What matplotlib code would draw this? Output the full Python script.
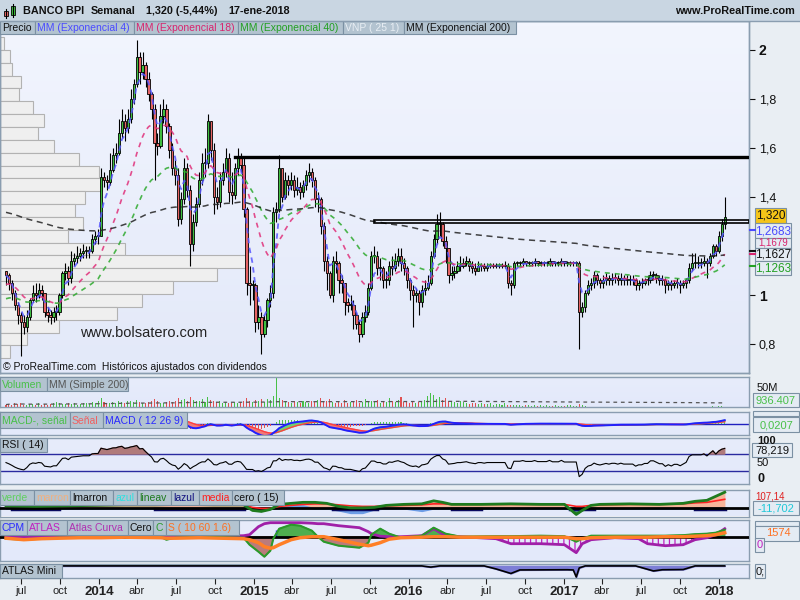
import numpy as np
import pandas as pd
import matplotlib
matplotlib.use("Agg")
import matplotlib.pyplot as plt
from matplotlib.patches import Rectangle
from matplotlib.colors import LinearSegmentedColormap

plt.rcParams['font.family'] = ['Liberation Sans', 'DejaVu Sans']
plt.rcParams['hatch.linewidth'] = 0.9

# ---------------- DATA (weekly) ----------------
first_week = "2013-05-27"
first_open = 1.10
close = [1.08,1.05,1.01,0.96,0.92,0.89,0.87,0.91,0.98,1.01,
         1.00,1.02,1.01,0.93,0.92,0.91,0.93,0.93,1.00,1.09,
         1.10,1.07,1.14,1.15,1.16,1.17,1.18,1.18,1.18,1.23,
         1.24,1.24,1.48,1.47,1.46,1.51,1.57,1.58,1.66,1.71,
         1.68,1.72,1.80,1.86,1.97,1.91,1.94,1.88,1.82,1.76,
         1.62,1.61,1.73,1.76,1.69,1.59,1.52,1.49,1.31,1.39,
         1.52,1.43,1.21,1.30,1.37,1.47,1.54,1.54,1.71,1.59,
         1.40,1.38,1.47,1.50,1.56,1.42,1.41,1.52,1.56,1.53,
         1.35,1.05,1.04,1.04,0.89,0.91,0.84,0.90,0.98,1.01,
         1.34,1.35,1.52,1.40,1.47,1.45,1.47,1.43,1.44,1.42,
         1.45,1.49,1.50,1.47,1.39,1.39,1.28,1.14,1.09,1.00,
         1.14,1.13,1.06,1.05,0.97,0.96,0.96,0.92,0.88,0.84,
         0.91,0.93,1.03,1.16,1.16,1.11,1.11,1.06,1.06,1.12,
         1.11,1.14,1.16,1.13,1.11,1.06,1.02,1.00,1.01,0.97,
         1.02,1.03,1.05,1.16,1.23,1.29,1.29,1.22,1.19,1.08,
         1.09,1.10,1.12,1.12,1.13,1.14,1.12,1.11,1.10,1.12,
         1.12,1.11,1.12,1.12,1.12,1.12,1.12,1.12,1.12,1.05,
         1.04,1.13,1.13,1.13,1.14,1.13,1.13,1.13,1.14,1.13,
         1.13,1.13,1.13,1.14,1.13,1.13,1.13,1.14,1.13,1.13,
         1.13,1.13,1.13,0.93,0.95,1.01,1.04,1.05,1.08,1.06,
         1.05,1.06,1.07,1.06,1.07,1.07,1.06,1.07,1.06,1.06,
         1.06,1.06,1.04,1.05,1.05,1.06,1.06,1.08,1.08,1.07,
         1.06,1.06,1.04,1.05,1.04,1.05,1.05,1.04,1.05,1.06,
         1.11,1.13,1.13,1.13,1.13,1.14,1.13,1.16,1.20,1.18,
         1.24,1.29,1.32]
high = [1.10,1.09,1.06,1.02,0.97,0.93,0.92,0.94,0.99,1.04,
        1.05,1.05,1.04,1.01,0.95,0.94,0.95,0.96,1.01,1.10,
        1.13,1.12,1.18,1.17,1.20,1.19,1.21,1.20,1.20,1.25,
        1.26,1.27,1.52,1.50,1.49,1.58,1.60,1.62,1.72,1.76,
        1.74,1.76,1.84,1.88,2.04,1.99,1.99,1.95,1.91,1.83,
        1.78,1.66,1.78,1.80,1.78,1.70,1.62,1.55,1.52,1.42,
        1.56,1.54,1.45,1.33,1.40,1.50,1.58,1.60,1.74,1.71,
        1.62,1.44,1.50,1.54,1.60,1.58,1.50,1.54,1.60,1.58,
        1.56,1.36,1.12,1.06,1.05,0.96,0.93,0.92,0.99,1.04,
        1.36,1.38,1.57,1.52,1.50,1.49,1.50,1.49,1.48,1.46,
        1.47,1.51,1.54,1.52,1.48,1.42,1.40,1.30,1.16,1.10,
        1.16,1.18,1.14,1.08,1.05,0.99,1.00,0.98,0.93,0.90,
        0.93,0.96,1.05,1.18,1.20,1.18,1.15,1.12,1.10,1.14,
        1.16,1.17,1.19,1.19,1.15,1.12,1.07,1.04,1.03,1.02,
        1.04,1.06,1.08,1.18,1.25,1.33,1.34,1.30,1.24,1.19,
        1.12,1.12,1.14,1.16,1.15,1.16,1.15,1.14,1.13,1.14,
        1.13,1.13,1.13,1.13,1.13,1.13,1.13,1.13,1.14,1.13,
        1.06,1.14,1.14,1.14,1.15,1.14,1.14,1.14,1.15,1.14,
        1.14,1.14,1.14,1.15,1.14,1.14,1.14,1.15,1.14,1.14,
        1.14,1.14,1.14,1.14,0.97,1.02,1.06,1.07,1.10,1.09,
        1.07,1.08,1.09,1.08,1.09,1.09,1.08,1.09,1.08,1.08,
        1.08,1.08,1.07,1.06,1.07,1.07,1.08,1.10,1.10,1.09,
        1.08,1.08,1.07,1.06,1.06,1.06,1.07,1.06,1.06,1.07,
        1.13,1.17,1.17,1.16,1.15,1.16,1.15,1.17,1.21,1.21,
        1.26,1.31,1.40]
low = [1.04,1.02,0.98,0.94,0.88,0.75,0.84,0.85,0.90,0.97,
       0.97,0.99,0.98,0.91,0.89,0.88,0.89,0.90,0.92,0.99,
       1.06,1.04,1.05,1.12,1.13,1.14,1.15,1.15,1.15,1.17,
       1.21,1.21,1.24,1.44,1.43,1.45,1.50,1.54,1.57,1.64,
       1.63,1.66,1.70,1.78,1.85,1.86,1.88,1.85,1.79,1.72,
       1.47,1.57,1.60,1.70,1.66,1.56,1.49,1.45,1.28,1.29,
       1.37,1.40,1.12,1.18,1.28,1.36,1.45,1.48,1.52,1.55,
       1.33,1.35,1.36,1.45,1.48,1.38,1.37,1.39,1.49,1.50,
       1.32,1.00,0.96,0.98,0.85,0.86,0.76,0.83,0.87,0.95,
       0.99,1.30,1.34,1.38,1.39,1.41,1.43,1.40,1.41,1.39,
       1.40,1.43,1.46,1.44,1.36,1.34,1.25,1.10,1.02,0.99,
       0.97,1.09,1.01,1.01,0.92,0.93,0.94,0.86,0.86,0.81,
       0.83,0.89,0.92,1.02,1.13,1.08,1.06,1.03,1.03,1.04,
       1.08,1.10,1.12,1.10,1.08,1.03,0.98,0.87,0.97,0.92,
       0.95,1.00,1.02,1.04,1.15,1.21,1.24,1.20,1.13,1.05,
       1.06,1.07,1.09,1.10,1.11,1.12,1.10,1.09,1.08,1.10,
       1.10,1.10,1.10,1.11,1.11,1.11,1.11,1.11,1.11,1.03,
       1.00,1.03,1.12,1.12,1.12,1.12,1.12,1.12,1.12,1.12,
       1.12,1.12,1.12,1.12,1.12,1.12,1.12,1.12,1.12,1.12,
       1.12,1.12,1.12,0.78,0.91,0.93,1.00,1.02,1.03,1.04,
       1.03,1.03,1.04,1.04,1.04,1.05,1.04,1.04,1.04,1.04,
       1.04,1.04,1.02,1.02,1.03,1.04,1.04,1.05,1.06,1.05,
       1.04,1.04,1.01,1.02,1.02,1.03,1.03,1.01,1.03,1.03,
       1.05,1.10,1.11,1.11,1.11,1.12,1.07,1.12,1.15,1.16,
       1.17,1.22,1.27]
volume_m = [6,8,5,9,7,10,6,5,8,7,6,9,5,7,6,8,10,12,9,7,
            8,10,7,9,6,8,11,9,7,12,10,14,22,12,9,11,13,10,15,12,
            11,14,16,12,18,13,10,9,12,15,20,14,11,10,13,16,12,14,22,18,
            20,15,25,18,14,16,20,12,26,18,15,12,14,10,12,11,9,13,10,12,
            16,22,14,12,18,15,20,12,20,18,28,74,22,18,14,12,10,16,12,10,
            14,12,11,15,13,18,22,14,16,20,12,10,13,11,17,9,12,15,18,10,
            12,20,14,16,12,18,10,14,13,22,16,12,18,25,12,14,10,13,11,12,
            15,18,28,35,30,20,25,18,22,15,16,12,10,14,12,10,8,9,11,8,
            10,8,7,9,6,8,7,5,9,6,5,4,5,6,3,4,5,3,4,3,
            4,3,5,3,2,4,3,2,3,5,4,2,3,8,4,2,1,1,1,1,
            1,0.8,0.6,0.7,0.5,0.6,0.8,0.5,0.6,0.5,0.7,0.6,0.8,0.5,0.6,0.5,0.7,0.9,0.6,0.5,
            0.6,0.5,0.7,0.6,0.5,0.6,0.8,0.5,0.6,0.7,1.2,0.9,0.8,0.7,0.8,0.9,0.7,1.0,1.5,1.2,
            1.6,1.8,0.94]
for _s in (close, high, low, volume_m):
    assert len(_s) == 243, len(_s)

# moving averages: periods, starting values (history before the chart), colours
ema_periods = [4, 18, 40, 200]
ema_seeds = [1.08, 1.04, 0.98, 1.34]
ema_colors = ['#5656ff', '#e0307a', '#2eaa2e', '#222222']

# volume-at-price (VNP) profile: top price, bin size, relative volumes top->bottom
vnp_top = 2.053
vnp_bin = 0.05245
vnp_rel = [4, 10, 12, 21, 19, 33, 44, 38, 54, 79, 99, 102, 85, 75, 83, 68,
           125, 248, 217, 173, 142, 117, 59, 27, 10]

# drawn lines
support_level = 1.565
support_from_week = 77
zone_low, zone_high = 1.293, 1.305
zone_from_week = 124

# custom indicator panel "verde marron ... cero(15)" (sparse readings)
p4_weeks = [0,10,20,30,40,50,60,70,80,83,86,89,92,96,100,104,108,112,116,120,124,128,134,140,
            144,147,150,160,170,180,188,192,194,197,200,210,220,228,232,236,239,242]
p4_lineav = [2.5,2.0,2.5,3,3.5,3.5,4,3.5,3.5,-2,-3,-1,4,5,6,6,5,2,0.5,0.5,1,3,4,4.5,
             7.5,6,4,4,4.5,4,4,-6,-2,3,4,4.5,4,5,7,8,12,16]
p4_media = [3,3,2.5,3,3.5,3.5,3.5,3.5,3.5,1,0,0,2,3,4,4.5,4.5,3.5,2.5,2,2,2.5,3,3.5,
            4.5,4.5,4,4,4,4,4,2,2,3,3.5,4,4,4.5,5.5,6,7.5,9]
p4_azul = [0,0,0,0,0,0,0,0,0,0,0,0,0,3,3,0,0,-2,-4.5,-4.5,-1,0,0,-2.5,
           0,0,0,0,0,0,0,-2,-1,0,0,0,0,0,0,0,0,0]
p4_lazul_from = [2, 50, 110, 150, 190, 232]
p4_lazul_to = [18, 80, 125, 160, 198, 242]

# CPM / ATLAS panel (sparse readings)
p5_weeks = [0,6,12,18,25,32,40,52,54,57,65,80,82,85,87,89,90,92,96,99,
            103,105,107,112,119,122,123,126,129,133,140,144,148,153,165,170,180,188,192,194,
            197,205,213,216,222,228,232,236,239,242]
p5_atlas = [0,0,-0.5,0,0,0.5,0.5,0,0,0,0,1,2,10,13,14,14,14,14,14,
            13.5,13,13,11,9,5,3,0.5,0,0,1,8,1,0,-2,-7,-7,-8,-16,-7,
            -3,-1,-2,-7,-9,-8,-3,-1,2,8]
p5_curva = [-2,-3,-2,-1,-1,0.5,1,0,-3,-1,0,-1,-8,-15,-20,-14,-2,8,12,11,
            6,0,-5,-9,-11,-6,2,8,3,-1,1,9,3,0,0.5,0.5,1,0.5,-5,-2,
            1,1,1,1,1,1.5,2.5,3,4,7]
p5_s = [-1.5,-3,-2,-1.5,-1,-1,-0.5,-1,-1.5,-1.5,-1,-2,-3,-6,-10,-11.5,-11,-8,-3,-1,
        0,0,0,-3,-7.5,-9,-8.5,-6,-2.5,-1,-0.5,0,0,-0.5,-0.5,-0.5,-0.5,-0.5,-2,-2,
        -1,-0.5,-0.5,-0.5,0,0,0.5,1,2,4]
cpm_weeks = [32, 33, 34, 35, 36, 37, 91]
cpm_values = [3, 2, 3, 2, 3, 2, 7]

# ATLAS Mini (sparse readings)
mini_weeks = [19,140,143,146,161,165,170,173,189,191,192,193,195,212,215,218,221,228,232,242]
mini_vals = [0,0,-1.2,0,0,-3,-7.5,-4,-3.8,-4,-11,-2,0,0,-2.5,-5,-3.8,-3.6,0,0]

tick_dates = ['2013-07-01','2013-10-01','2014-01-01','2014-04-01','2014-07-01','2014-10-01',
              '2015-01-01','2015-04-01','2015-07-01','2015-10-01','2016-01-01','2016-04-01',
              '2016-07-01','2016-10-01','2017-01-01','2017-04-01','2017-07-01','2017-10-01',
              '2018-01-01']
tick_labels = ['jul','oct','2014','abr','jul','oct','2015','abr','jul','oct','2016','abr',
               'jul','oct','2017','abr','jul','oct','2018']

price_ticks = [0.8, 1.0, 1.4, 1.6, 1.8, 2.0]
price_tick_labels = ['0,8', '1', '1,4', '1,6', '1,8', '2']

# ---------------- derived series ----------------
close = np.array(close); high = np.array(high); low = np.array(low)
n = len(close)
x = np.arange(n)
opens = np.r_[first_open, close[:-1]]
high = np.maximum(high, np.maximum(opens, close))
low = np.minimum(low, np.minimum(opens, close))
up = close >= opens

def ema(values, span, seed):
    a = 2.0 / (span + 1)
    out, e = [], seed
    for v in values:
        e = e + a * (v - e)
        out.append(e)
    return np.array(out)

emas = [ema(close, p, s) for p, s in zip(ema_periods, ema_seeds)]
macd = ema(close, 12, close[0]) - ema(close, 26, close[0])
signal = ema(macd, 9, 0.0)
hist = macd - signal

d = np.diff(close, prepend=close[0])
ag, al, rsi = 0.02, 0.02, []
for v in d:
    ag = ag + (max(v, 0) - ag) / 14
    al = al + (max(-v, 0) - al) / 14
    rsi.append(100 - 100 / (1 + ag / al))
rsi = np.array(rsi)
vol = np.array(volume_m)
vol_ma = pd.Series(vol).rolling(200, min_periods=1).mean().values

t0 = pd.Timestamp(first_week)
tick_pos = [(pd.Timestamp(t) - t0).days / 7.0 for t in tick_dates]

# ---------------- figure / layout ----------------
W, H = 800, 600
fig = plt.figure(figsize=(8, 6), dpi=100)
fig.patch.set_facecolor('#e9eef3')
XL = (-6 / 2.97, 743 / 2.97)

def px_ax(x0, y0, x1, y1, z=2):
    return fig.add_axes([x0 / W, 1 - y1 / H, (x1 - x0) / W, (y1 - y0) / H], zorder=z)

def gradient(ax, top='#eef2fd', bot='#e1e8f9'):
    cmap = LinearSegmentedColormap.from_list('g', [top, bot])
    ax.imshow(np.linspace(0, 1, 64).reshape(-1, 1), cmap=cmap, aspect='auto',
              extent=[0, 1, 0, 1], transform=ax.transAxes, origin='upper', zorder=0)

def frame(ax):
    for s in ax.spines.values():
        s.set_color('#8a9db0'); s.set_linewidth(1)
    ax.set_xticks([]); ax.set_yticks([])

# main price panel: background axes with VNP, then transparent candle axes
ylim_main = (0.682, 2.118)
axb = px_ax(0, 21, 749, 373, z=1)
gradient(axb, '#f2f5fe', '#e3e9f9')
centers = [vnp_top - vnp_bin * (k + 0.5) for k in range(len(vnp_rel))]
axb.barh(centers, vnp_rel, height=vnp_bin, left=0, color='#efefef', edgecolor='#b2b2b2',
         linewidth=0.8, zorder=1)
axb.set_xlim(0, max(vnp_rel) * 749 / 248)
axb.set_ylim(*ylim_main)
frame(axb)

ax = px_ax(0, 21, 749, 373, z=2)
ax.set_facecolor('none')
ax.set_xlim(*XL); ax.set_ylim(*ylim_main)
for s in ax.spines.values():
    s.set_color('#8a9db0'); s.set_linewidth(1)
ax.set_xticks([])
ax.yaxis.tick_right()
ax.set_yticks(price_ticks)
ax.set_yticklabels(price_tick_labels)
ax.tick_params(axis='y', direction='out', length=4, pad=3, labelsize=9, colors='#111')
for lab in ax.get_yticklabels():
    if ',' not in lab.get_text():
        lab.set_fontweight('bold'); lab.set_fontsize(10)

ax.vlines(x, low, high, color='black', lw=0.8, zorder=3)
body_h = np.maximum(np.abs(close - opens), 0.004)
ax.bar(x, body_h, bottom=np.minimum(opens, close), width=0.78,
       color=np.where(up, '#3fbf3f', '#e66464'), edgecolor='black', linewidth=0.6, zorder=4)
dash_styles = [(3, 2.5), (3, 3), (3, 3), (4, 3)]
for e, c, dsh, lw in zip(emas, ema_colors, dash_styles, [1.3, 1.2, 1.2, 1.1]):
    ax.plot(x, e, color=c, lw=lw, dashes=dsh, alpha=0.85, zorder=5)
ax.plot([support_from_week, XL[1]], [support_level, support_level], color='black', lw=2.4, zorder=6)
ax.add_patch(Rectangle((zone_from_week, zone_low), XL[1] - zone_from_week, zone_high - zone_low,
                       fill=False, edgecolor='black', lw=1.2, zorder=6))

# volume panel
axv = px_ax(0, 377, 749, 407)
gradient(axv, '#e7ecfb', '#e3e9fa')
axv.bar(x, vol, width=0.35, color=np.where(up, '#48c048', '#e05050'), zorder=2)
axv.plot(x, vol_ma, color='#555555', lw=0.9, dashes=(3, 3), zorder=3)
axv.set_xlim(*XL); axv.set_ylim(0, 75)
frame(axv)

# MACD panel
axm = px_ax(0, 411.5, 749, 435)
gradient(axm, '#e7ecfb', '#e3e9fa')
axm.axhline(0, color='#2020c0', lw=1, zorder=2)
axm.bar(x, hist, width=0.35, color=np.where(hist >= 0, '#50c050', '#e05050'), zorder=2)
axm.fill_between(x, macd, signal, where=macd < signal, interpolate=True, color='#f07a7a', zorder=3)
axm.fill_between(x, macd, signal, where=macd >= signal, interpolate=True, color='#70d070', zorder=3)
axm.plot(x, signal, color='#ff4040', lw=1, zorder=4)
axm.plot(x, macd, color='#2020ff', lw=1.4, zorder=4)
axm.set_xlim(*XL); axm.set_ylim(-0.15, 0.17)
frame(axm)

# RSI panel
axr = px_ax(0, 437.5, 749, 484)
gradient(axr, '#e7ecfb', '#e3e9fa')
axr.axhline(70, color='#2a2aa0', lw=1, zorder=2)
axr.axhline(30, color='#2a2aa0', lw=1, zorder=2)
axr.fill_between(x, 70, rsi, where=rsi > 70, interpolate=True, color='#b07a7a', zorder=3)
axr.plot(x, rsi, color='black', lw=0.8, zorder=4)
axr.set_xlim(*XL); axr.set_ylim(0, 108.6)
frame(axr)

# custom panel 4
w4 = np.array(p4_weeks); la = np.array(p4_lineav)
ax4 = px_ax(0, 489.5, 749, 516.5)
gradient(ax4, '#e7ecfb', '#e3e9fa')
ax4.fill_between(w4, 0, la, where=la >= 0, interpolate=True, color='#f6b49a', zorder=2)
ax4.fill_between(w4, 0, la, where=la <= 0, interpolate=True, color='#2e8b2e', zorder=2)
ax4.fill_between(w4, 0, p4_azul, color='#6d9de6', zorder=3)
for a, b in zip(p4_lazul_from, p4_lazul_to):
    ax4.plot([a, b], [-0.9, -0.9], color='#0a0a60', lw=2.5, zorder=4)
ax4.axhline(0, color='black', lw=2, zorder=4)
ax4.plot(w4, p4_media, color='#ff2020', lw=1.2, zorder=5)
ax4.plot(w4, la, color='#1e7b1e', lw=2, zorder=6)
ax4.set_xlim(*XL); ax4.set_ylim(-8, 18.7)
frame(ax4)

# CPM / ATLAS panel
w5 = np.array(p5_weeks); at = np.array(p5_atlas); cu = np.array(p5_curva)
ax5 = px_ax(0, 519.5, 749, 561)
gradient(ax5, '#e7ecfb', '#e3e9fa')
ax5.fill_between(w5, 0, cu, where=cu >= 0, interpolate=True, color='#4fae4f', zorder=2)
ax5.fill_between(w5, 0, cu, where=cu <= 0, interpolate=True, color='#bb7b7b', zorder=2)
ax5.fill_between(w5, 0, at, where=at < 0, interpolate=True, facecolor='none',
                 edgecolor='#c020c0', hatch='|||', lw=0, zorder=3)
ax5.vlines(cpm_weeks, 0, cpm_values, color='#2020ff', lw=1, zorder=3)
ax5.axhline(0, color='black', lw=2, zorder=4)
ax5.plot(w5, at, color='#a020a8', lw=2, zorder=5)
ax5.plot(w5, cu, color='#2a9a2a', lw=1.5, zorder=5)
ax5.plot(w5, p5_s, color='#ff7f27', lw=2.5, zorder=6)
ax5.set_xlim(*XL); ax5.set_ylim(-24.3, 17.2)
frame(ax5)

# ATLAS Mini panel + date axis
axn = px_ax(0, 563.5, 749, 578)
gradient(axn, '#e7ecfb', '#e3e9fa')
axn.fill_between(mini_weeks, 0, mini_vals, color='#7d7ed6', zorder=2)
axn.plot(mini_weeks, mini_vals, color='black', lw=1.2, zorder=3)
axn.set_xlim(*XL); axn.set_ylim(-12, 2.4)
frame(axn)
axn.set_xticks(tick_pos)
axn.set_xticklabels(tick_labels)
axn.tick_params(axis='x', direction='out', length=4, pad=2, labelsize=8, colors='#222')
for lab in axn.get_xticklabels():
    if lab.get_text().isdigit():
        lab.set_fontweight('bold'); lab.set_fontsize(9.5)

# ---------------- overlay: header, legends, value labels ----------------
ov = fig.add_axes([0, 0, 1, 1], zorder=20)
ov.set_xlim(0, W); ov.set_ylim(H, 0); ov.axis('off'); ov.patch.set_alpha(0)

ov.add_patch(Rectangle((0, 0), 800, 21, facecolor='#c9d6e2', edgecolor='none'))
ov.plot([0, 800], [21, 21], color='#8a9db0', lw=1)
# icon
ov.plot([5.5, 5.5], [9, 18], color='black', lw=0.8)
ov.add_patch(Rectangle((3.5, 11), 4, 5, facecolor='#e66464', edgecolor='black', lw=0.6))
ov.plot([13, 13], [4, 17], color='black', lw=0.8)
ov.add_patch(Rectangle((11, 6), 4, 9, facecolor='#3fbf3f', edgecolor='black', lw=0.6))
for xx, tt in [(23, 'BANCO BPI'), (91, 'Semanal'), (146, '1,320 (-5,44%)'), (228, '17-ene-2018')]:
    ov.text(xx, 11, tt, fontsize=7.8, fontweight='bold', va='center', ha='left', color='#111')
ov.text(795, 11, 'www.ProRealTime.com', fontsize=7.8, fontweight='bold', va='center',
        ha='right', color='#111')

def lbox(x0, x1, y0, y1, txt, col, fs=7.5):
    ov.add_patch(Rectangle((x0, y0), x1 - x0, y1 - y0, facecolor='#b3c3d0',
                           edgecolor='#7b90a3', lw=0.8))
    ov.text(x0 + 2, (y0 + y1) / 2 + 0.5, txt, color=col, fontsize=fs, va='center', ha='left')

def vbox(x0, x1, y0, y1, txt, col, fc='#e4ebf3', fs=8):
    ov.add_patch(Rectangle((x0, y0), x1 - x0, y1 - y0, facecolor=fc, edgecolor='#7b90a3', lw=0.8))
    if txt:
        ov.text((x0 + x1) / 2, (y0 + y1) / 2 + 0.5, txt, color=col, fontsize=fs,
                va='center', ha='center')

for x0, x1, t, c in [(0, 35, 'Precio', '#111'), (35, 134, 'MM (Exponencial 4)', '#4a4aff'),
                     (134, 238, 'MM (Exponencial 18)', '#d8246e'),
                     (238, 343, 'MM (Exponencial 40)', '#22a022'),
                     (343, 404, 'VNP ( 25 1)', '#e8eef4'),
                     (404, 516, 'MM (Exponencial 200)', '#111')]:
    lbox(x0, x1, 21, 34, t, c)

ov.text(80, 333, 'www.bolsatero.com', fontsize=10.5, color='#222', va='center', ha='left')
ov.text(3, 367, '\u00a9 ProRealTime.com  Hist\u00f3ricos ajustados con dividendos',
        fontsize=7.5, color='#111', va='center', ha='left')

for x0, x1, t, c in [(0, 47, 'Volumen', '#48c048'), (47, 128, 'MM (Simple 200)', '#555')]:
    lbox(x0, x1, 377, 391, t, c)
for x0, x1, t, c in [(0, 70, 'MACD-, se\u00f1al', '#48c048'), (70, 103, 'Se\u00f1al', '#f06060'),
                     (103, 187, 'MACD ( 12 26 9)', '#2a2aff')]:
    lbox(x0, x1, 412, 428, t, c)
lbox(0, 47, 438, 452, 'RSI ( 14)', '#111')
for x0, x1, t, c in [(0, 34, 'verde', '#60d060'), (34, 70, 'marron', '#f0b080'),
                     (70, 113, 'lmarron', '#111'), (113, 137, 'azul', '#30e0e0'),
                     (137, 171, 'lineav', '#1e7b1e'), (171, 199, 'lazul', '#101080'),
                     (199, 232, 'media', '#ff2020'), (232, 284, 'cero ( 15)', '#111')]:
    lbox(x0, x1, 490, 505, t, c)
for x0, x1, t, c in [(0, 27, 'CPM', '#2a2aff'), (27, 67, 'ATLAS', '#c020c0'),
                     (67, 128, 'Atlas Curva', '#b030b0'), (128, 153, 'Cero', '#111'),
                     (153, 166, 'C', '#2a9a2a'), (166, 239, 'S ( 10 60 1.6)', '#ff7020')]:
    lbox(x0, x1, 520, 535, t, c)
lbox(0, 62, 563.5, 578, 'ATLAS Mini', '#111')

# price value labels
for yy, col in [(230, '#4a4aff'), (254, '#d8246e'), (251, '#111'), (266, '#22a022')]:
    ov.plot([750, 755], [yy, yy], color=col, lw=1.5)
vbox(755, 786, 208, 223, '1,320', '#111', fc='#f5c518', fs=8.5)
vbox(755, 791, 223, 238, '1,2683', '#4a4aff', fs=8.5)
vbox(755, 791, 238, 248, '', '#d8246e')
ov.text(773, 242.8, '1,1679', color='#d8246e', fontsize=7, va='center', ha='center')
vbox(755, 791, 247.5, 261, '1,1627', '#111', fs=8.5)
vbox(755, 791, 261, 275, '1,1263', '#22a022', fs=8.5)

# sub-panel value labels
ov.text(757, 388, '50M', fontsize=8, color='#111', va='center')
vbox(753, 799, 393, 407, '936.407', '#48c048')
vbox(753, 799, 411, 416, '', '#111')
vbox(753, 799, 417, 432, '0,0207', '#48c048')
ov.text(757, 441, '100', fontsize=8, color='#111', va='center', fontweight='bold')
vbox(752, 792, 443, 457, '78,219', '#111')
ov.text(757, 463, '50', fontsize=8, color='#111', va='center')
ov.text(757, 479, '0', fontsize=9, color='#111', va='center', fontweight='bold')
ov.text(755, 496.5, '107,14', fontsize=7, color='#e02020', va='center')
vbox(753, 799, 500.5, 515, '-11,702', '#20c8d8')
vbox(755, 799, 521, 526, '', '#111')
vbox(755, 799, 526, 541, '', '#111')
ov.text(766, 533.5, '1574', fontsize=8, color='#ff7020', va='center')
vbox(755, 764, 538, 552, '0', '#c020c0')
vbox(755, 765, 564, 578, '0;', '#111')

fig.savefig('out.png', dpi=100, facecolor=fig.get_facecolor())
